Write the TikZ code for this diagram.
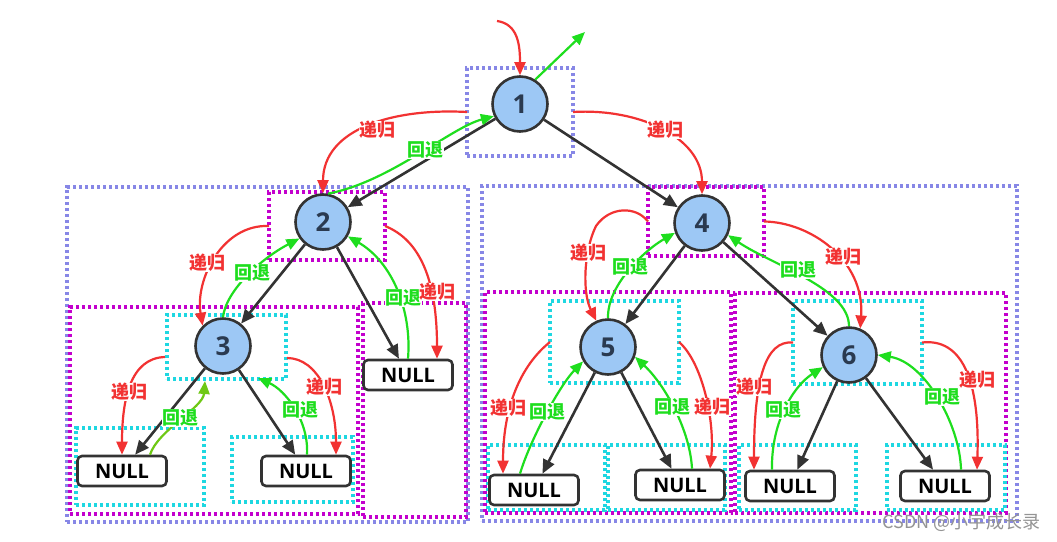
\documentclass[tikz,border=0pt]{standalone}
\usepackage{fontspec}
\newfontfamily\cjk{Noto Sans CJK SC}
\newfontfamily\latf{Open Sans}
\usetikzlibrary{arrows.meta,fit,calc}
\definecolor{nodefill}{RGB}{157,200,245}
\definecolor{nodeline}{RGB}{51,51,51}
\definecolor{digit}{RGB}{42,58,80}
\definecolor{redc}{RGB}{242,50,50}
\definecolor{greenc}{RGB}{30,222,30}
\definecolor{ygreen}{RGB}{110,200,20}
\definecolor{lav}{RGB}{135,135,230}
\definecolor{mag}{RGB}{195,0,205}
\definecolor{cyanc}{RGB}{30,215,225}
\begin{document}
\begin{tikzpicture}[x=1pt,y=-1pt,
  tnode/.style={circle,draw=nodeline,fill=nodefill,line width=2.6pt,minimum size=55pt,inner sep=0pt,text=digit,font=\latf\bfseries\fontsize{26}{26}\selectfont},
  nullbox/.style={rectangle,rounded corners=4.5pt,draw=nodeline,fill=white,line width=2.6pt,minimum width=89pt,minimum height=30pt,inner sep=0pt,text=black,font=\latf\bfseries\fontsize{20}{20}\selectfont},
  frame/.style={line width=3.2pt,dash pattern=on 3.2pt off 2.8pt,inner sep=0pt,outer sep=0pt},
  lavbox/.style={frame,draw=lav},
  magbox/.style={frame,draw=mag},
  cyabox/.style={frame,draw=cyanc},
  edgeb/.style={draw=nodeline,line width=2.6pt,-{Triangle[length=14pt,width=12pt]}},
  recur/.style={draw=redc,line width=2.2pt,-{Triangle[length=13pt,width=11pt]}},
  back/.style={draw=greenc,line width=2.2pt,-{Triangle[length=13pt,width=11pt]}},
  backy/.style={draw=ygreen,line width=2.2pt,-{Triangle[length=13pt,width=11pt]}},
  rlab/.style={fill=white,inner sep=0.5pt,text=redc,font=\cjk\bfseries\fontsize{18}{18}\selectfont},
  glab/.style={fill=white,inner sep=0.5pt,text=greenc,font=\cjk\bfseries\fontsize{18}{18}\selectfont},
  wmark/.style={inner sep=0pt,text=black!42,font=\cjk\fontsize{18}{18}\selectfont}
]
\useasboundingbox[fill=white] (0,0) rectangle (1057,541);

% dotted frames
\node[lavbox,fit={(467,68) (573,156)}] (B1) {};
\node[lavbox,fit={(67,187) (468,522)}] (BL) {};
\node[lavbox,fit={(482,186) (1017,521)}] (BR) {};
\node[magbox,fit={(269,192) (385,260)}] (M2) {};
\node[magbox,fit={(70,307) (358,514)}] (M3) {};
\node[magbox,fit={(363,303) (466,517)}] (M2R) {};
\node[magbox,fit={(648,187) (764,256)}] (M4) {};
\node[magbox,fit={(485,292) (731,513)}] (M5) {};
\node[magbox,fit={(735,293) (1006,513)}] (M6) {};
\node[cyabox,fit={(167,315) (286,379)}] (C3) {};
\node[cyabox,fit={(76,428) (204,505)}] (C3L) {};
\node[cyabox,fit={(232,437) (353,502)}] (C3R) {};
\node[cyabox,fit={(550,301) (679,383)}] (C5) {};
\node[cyabox,fit={(488,445) (605,510)}] (C5L) {};
\node[cyabox,fit={(608,445) (725,510)}] (C5R) {};
\node[cyabox,fit={(793,301) (922,384)}] (C6) {};
\node[cyabox,fit={(739,445) (856,510)}] (C6L) {};
\node[cyabox,fit={(887,445) (1005,510)}] (C6R) {};

% tree nodes
\node[tnode] (n1) at (520,104) {1};
\node[tnode] (n2) at (323,222) {2};
\node[tnode] (n3) at (223,346) {3};
\node[tnode] (n4) at (702,223) {4};
\node[tnode] (n5) at (608,347) {5};
\node[tnode] (n6) at (849,355) {6};
\node[nullbox] (u2) at (408,375) {NULL};
\node[nullbox] (u3l) at (122,471) {NULL};
\node[nullbox] (u3r) at (306,471) {NULL};
\node[nullbox] (u5l) at (534,490) {NULL};
\node[nullbox] (u5r) at (680,485) {NULL};
\node[nullbox] (u6l) at (790,486) {NULL};
\node[nullbox] (u6r) at (945,486) {NULL};

% free ends
\coordinate (topin) at (497,21);
\coordinate (topout) at (585,32);
\coordinate (c3ls) at (165,357);
\coordinate (c3rs) at (287,358);
\coordinate (c3lb) at (205,381);
\coordinate (c3rb) at (258,378);

% black tree edges
\draw[edgeb] (n1) -- (n2);
\draw[edgeb] (n1) -- (n4);
\draw[edgeb] (n2) -- (n3);
\draw[edgeb] (n2) -- (u2);
\draw[edgeb] (n3) -- (u3l);
\draw[edgeb] (n3) -- (u3r);
\draw[edgeb] (n4) -- (n5);
\draw[edgeb] (n4) -- (n6);
\draw[edgeb] (n5) -- (u5l);
\draw[edgeb] (n5) -- (u5r);
\draw[edgeb] (n6) -- (u6l);
\draw[edgeb] (n6) -- (u6r);

% top
\draw[recur] (topin) .. controls (518,24) and (520,45) .. (n1.north);
\draw[back] (n1.58) -- (topout);

% level 1
\draw[recur] (B1.west) .. controls (395,108) and (323,128) .. (n2.north);
\draw[back] (n2.80) .. controls (390,182) and (450,128) .. (n1.205);
\draw[recur] (B1.east) .. controls (640,108) and (702,138) .. (n4.north);

% node 2
\draw[recur] (M2.west) .. controls (222,224) and (195,280) .. (n3.135);
\draw[back] (n3.north) .. controls (226,290) and (262,258) .. (n2.215);
\draw[recur] (M2.east) .. controls (420,240) and (437,280) .. ($(u2.north)+(29,0)$);
\draw[back] (u2.north) .. controls (412,310) and (392,262) .. (n2.330);

% node 3
\draw[recur] (c3ls) .. controls (130,358) and (122,400) .. ($(u3l.north)+(0,0)$);
\draw[backy] ($(u3l.north)+(28,0)$) .. controls (158,430) and (203,408) .. (c3lb);
\draw[back] ($(u3r.north)+(1,0)$) .. controls (309,420) and (285,390) .. (c3rb);
\draw[recur] (c3rs) .. controls (318,358) and (336,400) .. ($(u3r.north)+(30,0)$);

% node 4
\draw[recur] (M4.west) .. controls (636,206) and (610,206) .. (596,226) .. controls (584,250) and (582,292) .. (n5.114);
\draw[back] (n5.north) .. controls (607,285) and (645,250) .. (n4.200);
\draw[recur] (M4.east) .. controls (810,222) and (865,260) .. (n6.67);
\draw[back] (n6.north) .. controls (849,288) and (772,265) .. (n4.335);

% node 5
\draw[recur] (C5.west) .. controls (525,362) and (503,400) .. ($(u5l.north)+(-31,0)$);
\draw[back] ($(u5l.north)+(-14,0)$) .. controls (530,440) and (560,385) .. (n5.210);
\draw[back] ($(u5r.north)+(12,0)$) .. controls (690,430) and (665,385) .. (n5.340);
\draw[recur] (C5.east) .. controls (702,362) and (715,420) .. ($(u5r.north)+(30,0)$);

% node 6
\draw[recur] (C6.west) .. controls (765,340) and (754,380) .. ($(u6l.north)+(-36,0)$);
\draw[back] ($(u6l.north)+(-18,0)$) .. controls (771,420) and (795,385) .. (n6.205);
\draw[back] ($(u6r.north)+(16,0)$) .. controls (960,425) and (925,362) .. (n6.east);
\draw[recur] (C6.east) .. controls (962,338) and (980,380) .. ($(u6r.north)+(32,0)$);

% labels
\node[rlab] (l1a) at (377,130) {递归};
\node[glab] (l1b) at (425,150) {回退};
\node[rlab] (l1c) at (665,130) {递归};
\node[rlab] (l2a) at (207,263) {递归};
\node[glab] (l2b) at (252,273) {回退};
\node[glab] (l2c) at (403,298) {回退};
\node[rlab] (l2d) at (437,292) {递归};
\node[rlab] (l3a) at (129,392) {递归};
\node[glab] (l3b) at (180,418) {回退};
\node[glab] (l3c) at (300,410) {回退};
\node[rlab] (l3d) at (324,387) {递归};
\node[rlab] (l4a) at (588,253) {递归};
\node[glab] (l4b) at (630,267) {回退};
\node[glab] (l4c) at (798,270) {回退};
\node[rlab] (l4d) at (843,257) {递归};
\node[rlab] (l5a) at (508,408) {递归};
\node[glab] (l5b) at (547,412) {回退};
\node[glab] (l5c) at (672,407) {回退};
\node[rlab] (l5d) at (712,407) {递归};
\node[rlab] (l6a) at (754,387) {递归};
\node[glab] (l6b) at (783,410) {回退};
\node[glab] (l6c) at (942,397) {回退};
\node[rlab] (l6d) at (977,380) {递归};

\node[wmark,anchor=east] (wm) at (1041,522) {CSDN @小宇成长录};
\end{tikzpicture}
\end{document}
